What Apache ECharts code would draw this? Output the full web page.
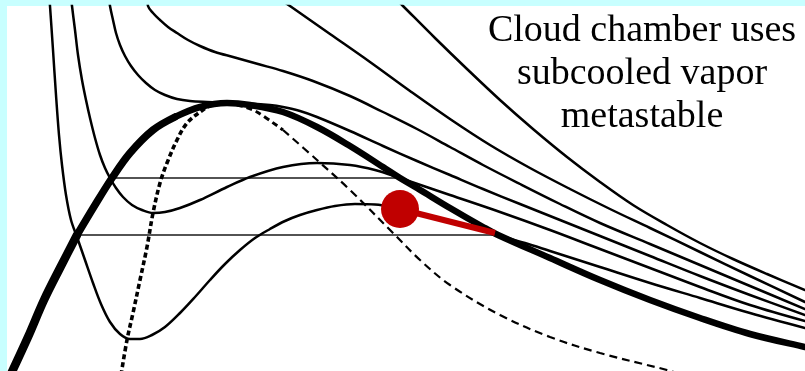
<!DOCTYPE html>
<html>
<head>
<meta charset="utf-8">
<title>Van der Waals isotherms</title>
<script src="https://cdn.jsdelivr.net/npm/echarts@6/dist/echarts.min.js"></script>
<style>
  html, body { margin: 0; padding: 0; background: #c8ffff; }
  #chart { width: 805px; height: 371px; }
</style>
</head>
<body>
<div id="chart"></div>
<script>
// Pressure-volume diagram: [volume, pressure] in arbitrary plot units.

// Coexistence curve (binodal), split where the stroke gets thinner
const binodalLow = [
  [3, -5], [21, 34], [37, 71], [53, 103], [70, 136]
];
const binodalMid = [
  [70, 136], [88, 166], [105, 193], [123, 218], [146, 241], [168, 254]
];
const binodalHigh = [
  [168, 254], [193, 264], [220, 268], [243, 266], [276, 259], [310, 244],
  [343, 225], [376, 204], [393, 193], [410, 183], [443, 163], [476, 144],
  [491, 136], [543, 113], [593, 91], [643, 71], [693, 53], [743, 37],
  [798, 24], [808, 22]
];

// Spinodal: liquid side, vapor side near the top, vapor side further out
const spinodalLiquid = [
  [114, -4], [120, 31], [126, 58], [133, 91], [140, 124], [146, 158],
  [153, 188], [160, 208], [170, 231], [180, 248], [193, 259], [205, 266], [220, 268]
];
const spinodalVaporTop = [
  [220, 268], [238, 264], [250, 259], [276, 241]
];
const spinodalVapor = [
  [276, 241], [310, 211], [343, 181], [386, 138], [413, 111], [443, 86],
  [493, 56], [543, 34], [593, 18], [660, 1], [673, -3]
];

// Isotherms, coldest first
const isoT1 = [
  [42.5, 371], [43, 365], [46, 321], [49, 276], [52, 236], [55, 206], [59, 176],
  [64, 151], [70, 134], [78, 111], [86, 88], [94, 67], [103, 49], [113, 37],
  [123, 32], [133, 32], [145, 36], [158, 44], [173, 58], [188, 74], [203, 91],
  [218, 107], [233, 121], [248, 133], [263, 142], [278, 150], [293, 156],
  [310, 161], [328, 165], [348, 167], [368, 166.5], [388, 163.5], [413, 158],
  [443, 150], [468, 143], [491, 136], [518, 128], [543, 120], [593, 104],
  [643, 88], [693, 73], [743, 58], [798, 43]
];
const isoT2 = [
  [64.5, 371], [65, 365], [68, 341], [71, 316], [75, 291], [79, 271], [83, 253],
  [88, 233], [93, 216], [98, 203], [103, 193], [109, 183], [116, 174],
  [125, 166], [135, 161], [146, 158], [158, 159], [173, 163], [193, 171],
  [220, 184], [243, 194], [276, 204], [310, 208], [343, 206], [368, 201],
  [393, 193], [443, 176], [493, 159], [543, 141], [593, 122], [643, 103],
  [693, 84], [743, 66], [798, 50]
];
const isoT3 = [
  [102.5, 371], [103, 365], [106, 351], [109, 338], [113, 326], [118, 315],
  [124, 305], [131, 296], [139, 288], [148, 281], [158, 276], [170, 272],
  [183, 270], [200, 269], [223, 268], [243, 267.5], [263, 266], [276, 264],
  [293, 260], [310, 254], [343, 240], [376, 225], [410, 210], [443, 196],
  [476, 182], [513, 167], [553, 151], [593, 135], [643, 115], [693, 95],
  [743, 76], [798, 56]
];
const isoT4 = [
  [140.5, 371], [141, 365], [146, 358], [153, 351], [161, 344], [170, 338],
  [181, 331], [193, 325], [208, 319], [226, 314], [251, 307], [276, 300],
  [306, 290], [343, 275], [376, 259], [410, 242], [443, 224], [476, 206],
  [513, 187], [553, 167], [593, 148], [643, 127], [693, 106], [743, 85], [798, 62]
];
const isoT5 = [
  [274.4, 371], [283, 365], [323, 337], [363, 309], [403, 280], [443, 252],
  [483, 226], [523, 203], [563, 182], [603, 162], [643, 143], [693, 119],
  [743, 95], [798, 69]
];
const isoT6 = [
  [390, 371], [396, 365], [428, 333], [460, 302], [493, 271], [526, 242],
  [560, 214], [593, 189], [626, 166], [660, 146], [693, 128], [726, 112],
  [760, 97], [798, 81]
];

// Maxwell tie lines
const tieUpper = [[105, 193], [393, 193]];
const tieLower = [[70, 136], [491, 136]];

// Metastable stretch of the coldest isotherm
const metastable = [[393, 162], [488, 138]];

const noteLines = ['Cloud chamber uses', 'subcooled vapor', 'metastable'];

const chart = echarts.init(document.getElementById('chart'), null, { renderer: 'canvas' });

function curve(data, width, extra) {
  return Object.assign({
    type: 'line',
    data: data,
    smooth: 0.35,
    symbol: 'none',
    clip: true,
    lineStyle: { color: '#000', width: width, cap: 'round', join: 'round' },
    silent: true
  }, extra || {});
}

function dashed(data, width, pattern) {
  return curve(data, width, { lineStyle: { color: '#000', width: width, type: pattern } });
}

const series = [
  curve(tieUpper, 1.6, { smooth: false, lineStyle: { color: '#1a1a1a', width: 1.6 } }),
  curve(tieLower, 1.6, { smooth: false, lineStyle: { color: '#1a1a1a', width: 1.6 } }),
  curve(isoT1, 2.5),
  curve(isoT2, 2.5),
  curve(isoT3, 2.5),
  curve(isoT4, 2.5),
  curve(isoT5, 2.5),
  curve(isoT6, 2.5),
  dashed(spinodalLiquid, 3.6, [5, 3]),
  dashed(spinodalVaporTop, 3, [6, 4]),
  dashed(spinodalVapor, 2.2, [8, 5]),
  curve(binodalLow, 8.5),
  curve(binodalMid, 7.5),
  curve(binodalHigh, 6.5),
  curve(metastable, 6, { smooth: false, lineStyle: { color: '#c00000', width: 6, cap: 'butt' }, z: 5 }),
  {
    type: 'scatter',
    data: [metastable[0]],
    symbol: 'circle',
    symbolSize: 38,
    itemStyle: { color: '#c00000', opacity: 1 },
    silent: true,
    z: 6
  }
];

const centres = [31, 74, 117];
const graphic = noteLines.map((t, i) => ({
  type: 'text',
  x: 642,
  y: centres[i],
  z: 10,
  style: {
    text: t,
    font: '38px "Liberation Serif", serif',
    fill: '#000',
    align: 'center',
    verticalAlign: 'middle',
    textAlign: 'center',
    textVerticalAlign: 'middle'
  }
}));

chart.setOption({
  animation: false,
  backgroundColor: 'transparent',
  grid: { left: 7, top: 6, right: 0, bottom: 0, show: true, backgroundColor: '#fff', borderWidth: 0 },
  xAxis: { type: 'value', min: 0, max: 798, show: false },
  yAxis: { type: 'value', min: 0, max: 365, show: false },
  series: series,
  graphic: graphic
});
</script>
</body>
</html>
